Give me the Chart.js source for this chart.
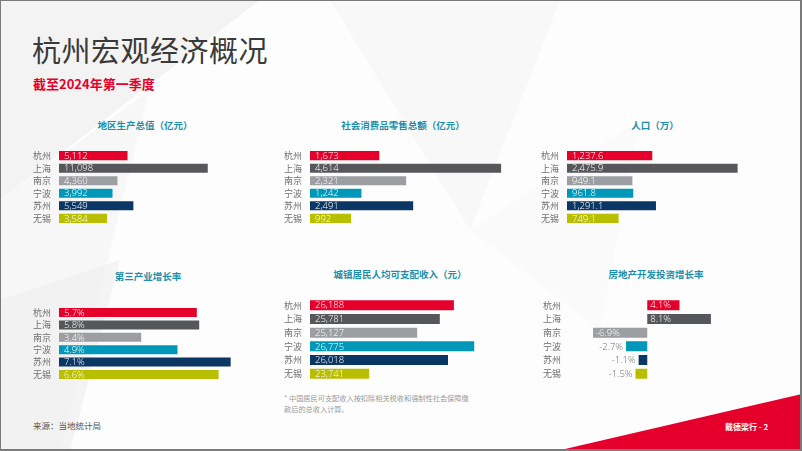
<!DOCTYPE html>
<html>
<head>
<meta charset="utf-8">
<script src="https://cdn.jsdelivr.net/npm/chart.js@4.4.1/dist/chart.umd.min.js"></script>
<style>
  html, body { margin: 0; padding: 0; }
  body { width: 802px; height: 451px; overflow: hidden; font-family: "Noto Sans CJK SC", "Noto Sans", sans-serif; }
  #slide { position: relative; width: 802px; height: 451px; background: #fdfdfd; overflow: hidden; }
  .poly { position: absolute; left: 0; top: 0; width: 802px; height: 451px; }
  .box { position: absolute; }
  .ctitle { position: absolute; color: #1a8fab; font-weight: bold; font-size: 9.5px; text-align: center; white-space: nowrap; transform: translate(-50%, -50%); }
  #frame { position: absolute; left: 0; top: 0; width: 802px; height: 451px; box-sizing: border-box;
           border-style: solid; border-color: #7a7a7a; border-width: 1px 2px 2px 1px; pointer-events: none; }
</style>
</head>
<body>
<div id="slide">
  <div class="poly" style="background:#f3f3f3; clip-path: polygon(0 0, 260px 0, 0 200px);"></div>
  <div class="poly" style="background:#f7f7f7; clip-path: polygon(0 200px, 150px 90px, 60px 451px, 0 451px);"></div>
  <div class="poly" style="background:#efefef; clip-path: polygon(0 300px, 120px 260px, 70px 451px, 0 451px); opacity:0.6;"></div>
  <div class="poly" style="background:#f8f8f8; clip-path: polygon(330px 0, 560px 0, 470px 230px);"></div>
  <div class="poly" style="background:#fafafa; clip-path: polygon(470px 230px, 640px 120px, 600px 330px);"></div>
  <div class="poly" style="background:#e4002b; clip-path: polygon(565px 449px, 802px 394px, 802px 451px, 565px 451px);"></div>

  <div style="position:absolute; left:32px; top:28px; font-size:29px; color:#3a3a3a; letter-spacing:0.5px;">杭州宏观经济概况</div>
  <div style="position:absolute; left:33px; top:74px; font-size:13px; font-weight:bold; color:#e4002b;">截至2024年第一季度</div>

  <div class="ctitle" style="left:145px; top:125px;">地区生产总值（亿元）</div>
  <div class="ctitle" style="left:403px; top:125px;">社会消费品零售总额（亿元）</div>
  <div class="ctitle" style="left:655px; top:125px;">人口（万）</div>
  <div class="ctitle" style="left:148px; top:276px;">第三产业增长率</div>
  <div class="ctitle" style="left:400px; top:274px;">城镇居民人均可支配收入（元）</div>
  <div class="ctitle" style="left:656px; top:274px;">房地产开发投资增长率</div>

  <div class="box" style="left:33px; top:143.5px; width:217px; height:86px;"><canvas id="c1"></canvas></div>
  <div class="box" style="left:284px; top:143.5px; width:236px; height:86px;"><canvas id="c2"></canvas></div>
  <div class="box" style="left:541px; top:143.5px; width:229px; height:86px;"><canvas id="c3"></canvas></div>
  <div class="box" style="left:33px; top:301px; width:217px; height:85px;"><canvas id="c4"></canvas></div>
  <div class="box" style="left:284px; top:293px; width:216px; height:93px;"><canvas id="c5"></canvas></div>
  <div class="box" style="left:543px; top:293px; width:197px; height:93px;"><canvas id="c6"></canvas></div>

  <div style="position:absolute; left:284px; top:393px; font-size:7.2px; line-height:11px; color:#9a9a9a;">* 中国居民可支配收入按扣除相关税收和强制性社会保障缴<br>款后的总收入计算。</div>
  <div style="position:absolute; left:33px; top:419px; font-size:8.5px; color:#555;">来源：当地统计局</div>
  <div style="position:absolute; left:725px; top:421px; font-size:8px; font-weight:bold; color:#fff;">戴德梁行 - 2</div>
  <div id="frame"></div>
</div>

<script>
const cities = ['杭州', '上海', '南京', '宁波', '苏州', '无锡'];
const cityColors = ['#e4002b', '#55575b', '#9c9ea1', '#0097b9', '#0b3764', '#b8be00'];

const gdp = [5112, 11098, 4360, 3992, 5549, 3584];
const retail = [1673, 4614, 2321, 1242, 2491, 992];
const population = [1237.6, 2475.9, 949.1, 961.8, 1291.1, 749.1];
const tertiaryGrowth = [5.7, 5.8, 3.4, 4.9, 7.1, 6.6];
const income = [26188, 25781, 25127, 26775, 26018, 23741];
const realEstateGrowth = [4.1, 8.1, -6.9, -2.7, -1.1, -1.5];

const fmtInt = v => v.toLocaleString('en-US');
const fmtDec = v => v.toLocaleString('en-US', { minimumFractionDigits: 1, maximumFractionDigits: 1 });
const fmtPct = v => v.toFixed(1) + '%';

// draws the value text on (or next to) each bar
const valueLabels = {
  id: 'valueLabels',
  afterDatasetsDraw(chart, args, opts) {
    const ctx = chart.ctx;
    const area = chart.chartArea;
    const meta = chart.getDatasetMeta(0);
    const data = chart.data.datasets[0].data;
    ctx.save();
    ctx.font = '300 9.5px "Open Sans", sans-serif';
    ctx.textBaseline = 'middle';
    meta.data.forEach((bar, i) => {
      const txt = opts.format(data[i]);
      const left = Math.max(Math.min(bar.x, bar.base), area.left);
      const right = Math.max(bar.x, bar.base);
      const w = right - left;
      const tw = ctx.measureText(txt).width;
      if (w > tw + 6) {
        ctx.fillStyle = '#ffffff';
        ctx.textAlign = 'left';
        ctx.fillText(txt, left + opts.pad, bar.y + 0.5);
      } else {
        ctx.fillStyle = '#6b6b6b';
        ctx.textAlign = 'right';
        ctx.fillText(txt, left - 3, bar.y + 0.5);
      }
    });
    ctx.restore();
  }
};

function makeChart(id, values, min, max, axisWidth, format, pad) {
  return new Chart(document.getElementById(id), {
    type: 'bar',
    data: {
      labels: cities,
      datasets: [{
        data: values,
        backgroundColor: cityColors,
        borderWidth: 0,
        categoryPercentage: 1,
        barPercentage: 0.73
      }]
    },
    options: {
      indexAxis: 'y',
      responsive: true,
      maintainAspectRatio: false,
      animation: false,
      layout: { padding: 0 },
      plugins: {
        legend: { display: false },
        tooltip: { enabled: false },
        valueLabels: { format: format, pad: pad }
      },
      scales: {
        x: { display: false, min: min, max: max },
        y: {
          grid: { display: false, drawTicks: false },
          border: { display: false },
          ticks: {
            color: '#707070',
            font: { size: 9, family: '"Noto Sans CJK SC"' },
            crossAlign: 'far',
            padding: 0
          },
          afterFit(scale) { scale.width = axisWidth; }
        }
      }
    },
    plugins: [valueLabels]
  });
}

makeChart('c1', gdp, 0, 14250, 26, fmtInt, 5);
makeChart('c2', retail, 0, 5070, 26, fmtInt, 5);
makeChart('c3', population, 0, 2946, 26, fmtDec, 5);
makeChart('c4', tertiaryGrowth, 0, 7.9, 26, fmtPct, 5);
makeChart('c5', income, 22030, 27520, 26, fmtInt, 5);
makeChart('c6', realEstateGrowth, -9.83, 11.8, 27, fmtPct, 3);
</script>
</body>
</html>
